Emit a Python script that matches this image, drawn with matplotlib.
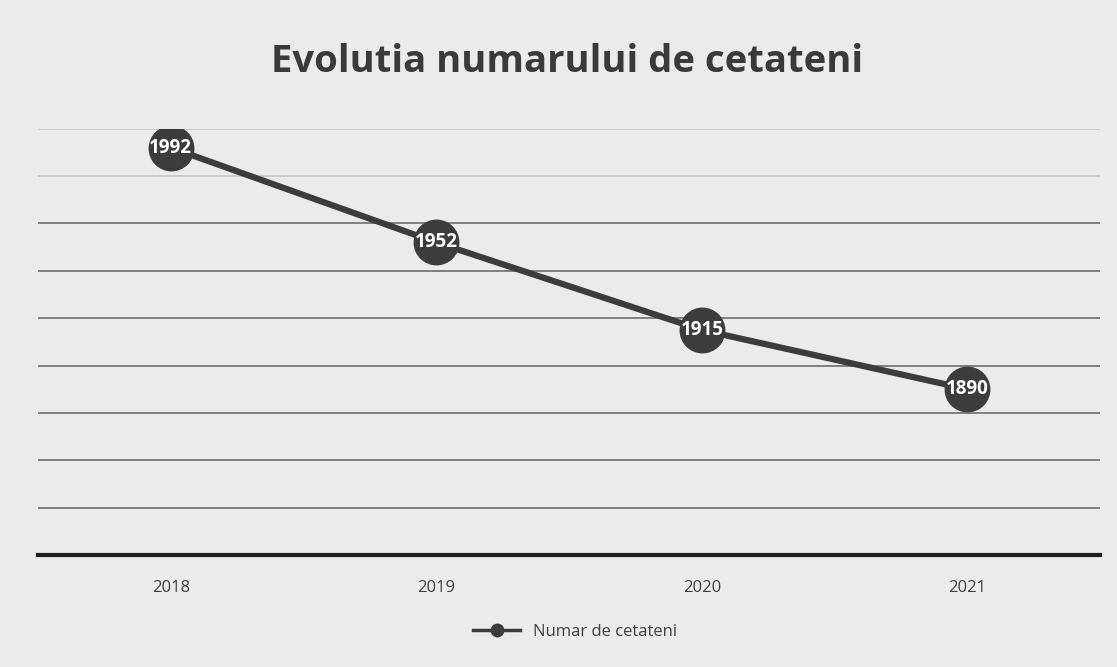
import matplotlib.pyplot as plt

# Data
years = ["2018", "2019", "2020", "2021"]
citizens = [1992, 1952, 1915, 1890]
series_name = "Numar de cetateni"
title = "Evolutia numarului de cetateni"

plt.rcParams['font.family'] = ['Open Sans', 'DejaVu Sans']

bg = '#ebebeb'
fig = plt.figure(figsize=(11.17, 6.67), dpi=100, facecolor=bg)
ax = fig.add_axes([0.034, 0.168, 0.951, 0.639])
ax.set_facecolor(bg)

x = list(range(len(years)))
ax.plot(x, citizens, color='#3c3c3c', lw=4.5, marker='o', ms=32,
        markerfacecolor='#3c3c3c', markeredgecolor='#3c3c3c',
        label=series_name, zorder=3)
for xi, v in zip(x, citizens):
    ax.text(xi, v, str(v), color='white', fontsize=13.5, fontweight='bold',
            ha='center', va='center', zorder=4)

ax.set_xlim(-0.5, len(years) - 0.5)
ax.set_ylim(1820, 2000)
ax.set_yticks(range(1840, 2001, 20))
ax.yaxis.grid(True, color='#777777', lw=1.3)
ax.set_axisbelow(True)
ax.tick_params(axis='y', left=False, labelleft=False)
ax.tick_params(axis='x', length=0, pad=18, labelsize=12, labelcolor='#404040')
ax.set_xticks(x)
ax.set_xticklabels(years)
for s in ['top', 'right', 'left']:
    ax.spines[s].set_visible(False)
ax.spines['bottom'].set_linewidth(3)
ax.spines['bottom'].set_color('#1e1e1e')

# top gridlines look washed out in the scan
for gl in ax.get_ygridlines()[-2:]:
    gl.set_color('#c8c8c8')

fig.suptitle(title, x=0.508, y=0.935, fontsize=27.5, fontweight='bold', color='#3a3a3a')

leg = fig.legend(handles=ax.get_lines(), loc='center', bbox_to_anchor=(0.515, 0.052),
                 frameon=False, fontsize=12, handlelength=2.8, markerscale=0.28)
for t in leg.get_texts():
    t.set_color('#404040')
leg.get_lines()[0].set_linewidth(2.5)

fig.savefig('out.png', dpi=100, facecolor=fig.get_facecolor())
